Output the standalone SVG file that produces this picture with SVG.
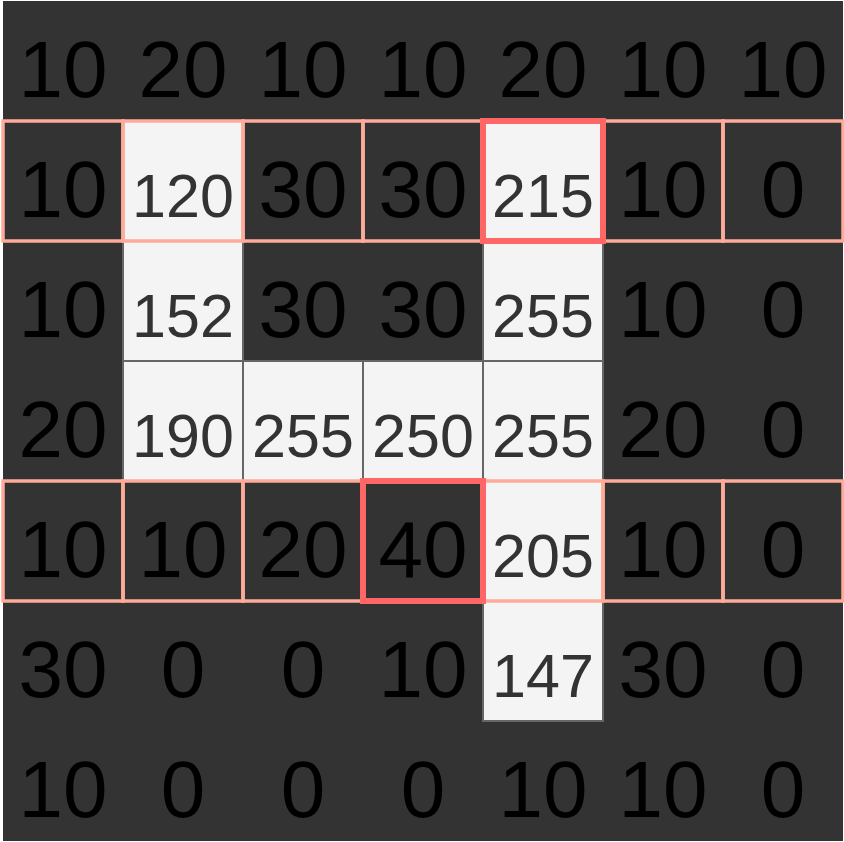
<svg xmlns="http://www.w3.org/2000/svg" width="844" height="842" viewBox="0 0 844 842">
<style>
.bg{fill:#333333}
.lc{fill:#f4f4f4;stroke:#666666;stroke-width:2}
.hl{fill:none;stroke:#ffab99;stroke-width:3.5}
.rd{fill:none;stroke:#ff6666;stroke-width:6}
text{font-family:"Liberation Sans",Arial,sans-serif;text-anchor:middle}
.d{font-size:80px;fill:#000000}
.l{font-size:61px;fill:#333333}
</style>
<rect x="0" y="0" width="844" height="842" fill="#ffffff"/>
<rect class="bg" x="3" y="1" width="840" height="840"/>
<g id="light-cells">
<rect class="lc" x="123" y="121" width="120" height="120"/>
<rect class="lc" x="483" y="121" width="120" height="120"/>
<rect class="lc" x="123" y="241" width="120" height="120"/>
<rect class="lc" x="483" y="241" width="120" height="120"/>
<rect class="lc" x="123" y="361" width="120" height="120"/>
<rect class="lc" x="243" y="361" width="120" height="120"/>
<rect class="lc" x="363" y="361" width="120" height="120"/>
<rect class="lc" x="483" y="361" width="120" height="120"/>
<rect class="lc" x="483" y="481" width="120" height="120"/>
<rect class="lc" x="483" y="601" width="120" height="120"/>
</g>
<g id="highlight-rows">
<rect class="hl" x="3" y="121" width="120" height="120"/>
<rect class="hl" x="123" y="121" width="120" height="120"/>
<rect class="hl" x="243" y="121" width="120" height="120"/>
<rect class="hl" x="363" y="121" width="120" height="120"/>
<rect class="hl" x="483" y="121" width="120" height="120"/>
<rect class="hl" x="603" y="121" width="120" height="120"/>
<rect class="hl" x="723" y="121" width="120" height="120"/>
<rect class="hl" x="3" y="481" width="120" height="120"/>
<rect class="hl" x="123" y="481" width="120" height="120"/>
<rect class="hl" x="243" y="481" width="120" height="120"/>
<rect class="hl" x="363" y="481" width="120" height="120"/>
<rect class="hl" x="483" y="481" width="120" height="120"/>
<rect class="hl" x="603" y="481" width="120" height="120"/>
<rect class="hl" x="723" y="481" width="120" height="120"/>
</g>
<g id="selected">
<rect class="rd" x="483" y="121" width="120" height="120"/>
<rect class="rd" x="363" y="481" width="120" height="120"/>
</g>
<g id="row0">
<text class="d" x="63" y="97">10</text><text class="d" x="183" y="97">20</text><text class="d" x="303" y="97">10</text><text class="d" x="423" y="97">10</text><text class="d" x="543" y="97">20</text><text class="d" x="663" y="97">10</text><text class="d" x="783" y="97">10</text>
</g>
<g id="row1">
<text class="d" x="63" y="217">10</text><text class="l" x="183" y="217">120</text><text class="d" x="303" y="217">30</text><text class="d" x="423" y="217">30</text><text class="l" x="543" y="217">215</text><text class="d" x="663" y="217">10</text><text class="d" x="783" y="217">0</text>
</g>
<g id="row2">
<text class="d" x="63" y="337">10</text><text class="l" x="183" y="337">152</text><text class="d" x="303" y="337">30</text><text class="d" x="423" y="337">30</text><text class="l" x="543" y="337">255</text><text class="d" x="663" y="337">10</text><text class="d" x="783" y="337">0</text>
</g>
<g id="row3">
<text class="d" x="63" y="457">20</text><text class="l" x="183" y="457">190</text><text class="l" x="303" y="457">255</text><text class="l" x="423" y="457">250</text><text class="l" x="543" y="457">255</text><text class="d" x="663" y="457">20</text><text class="d" x="783" y="457">0</text>
</g>
<g id="row4">
<text class="d" x="63" y="577">10</text><text class="d" x="183" y="577">10</text><text class="d" x="303" y="577">20</text><text class="d" x="423" y="577">40</text><text class="l" x="543" y="577">205</text><text class="d" x="663" y="577">10</text><text class="d" x="783" y="577">0</text>
</g>
<g id="row5">
<text class="d" x="63" y="697">30</text><text class="d" x="183" y="697">0</text><text class="d" x="303" y="697">0</text><text class="d" x="423" y="697">10</text><text class="l" x="543" y="697">147</text><text class="d" x="663" y="697">30</text><text class="d" x="783" y="697">0</text>
</g>
<g id="row6">
<text class="d" x="63" y="817">10</text><text class="d" x="183" y="817">0</text><text class="d" x="303" y="817">0</text><text class="d" x="423" y="817">0</text><text class="d" x="543" y="817">10</text><text class="d" x="663" y="817">10</text><text class="d" x="783" y="817">0</text>
</g>
<g id="connectors"/>
</svg>
